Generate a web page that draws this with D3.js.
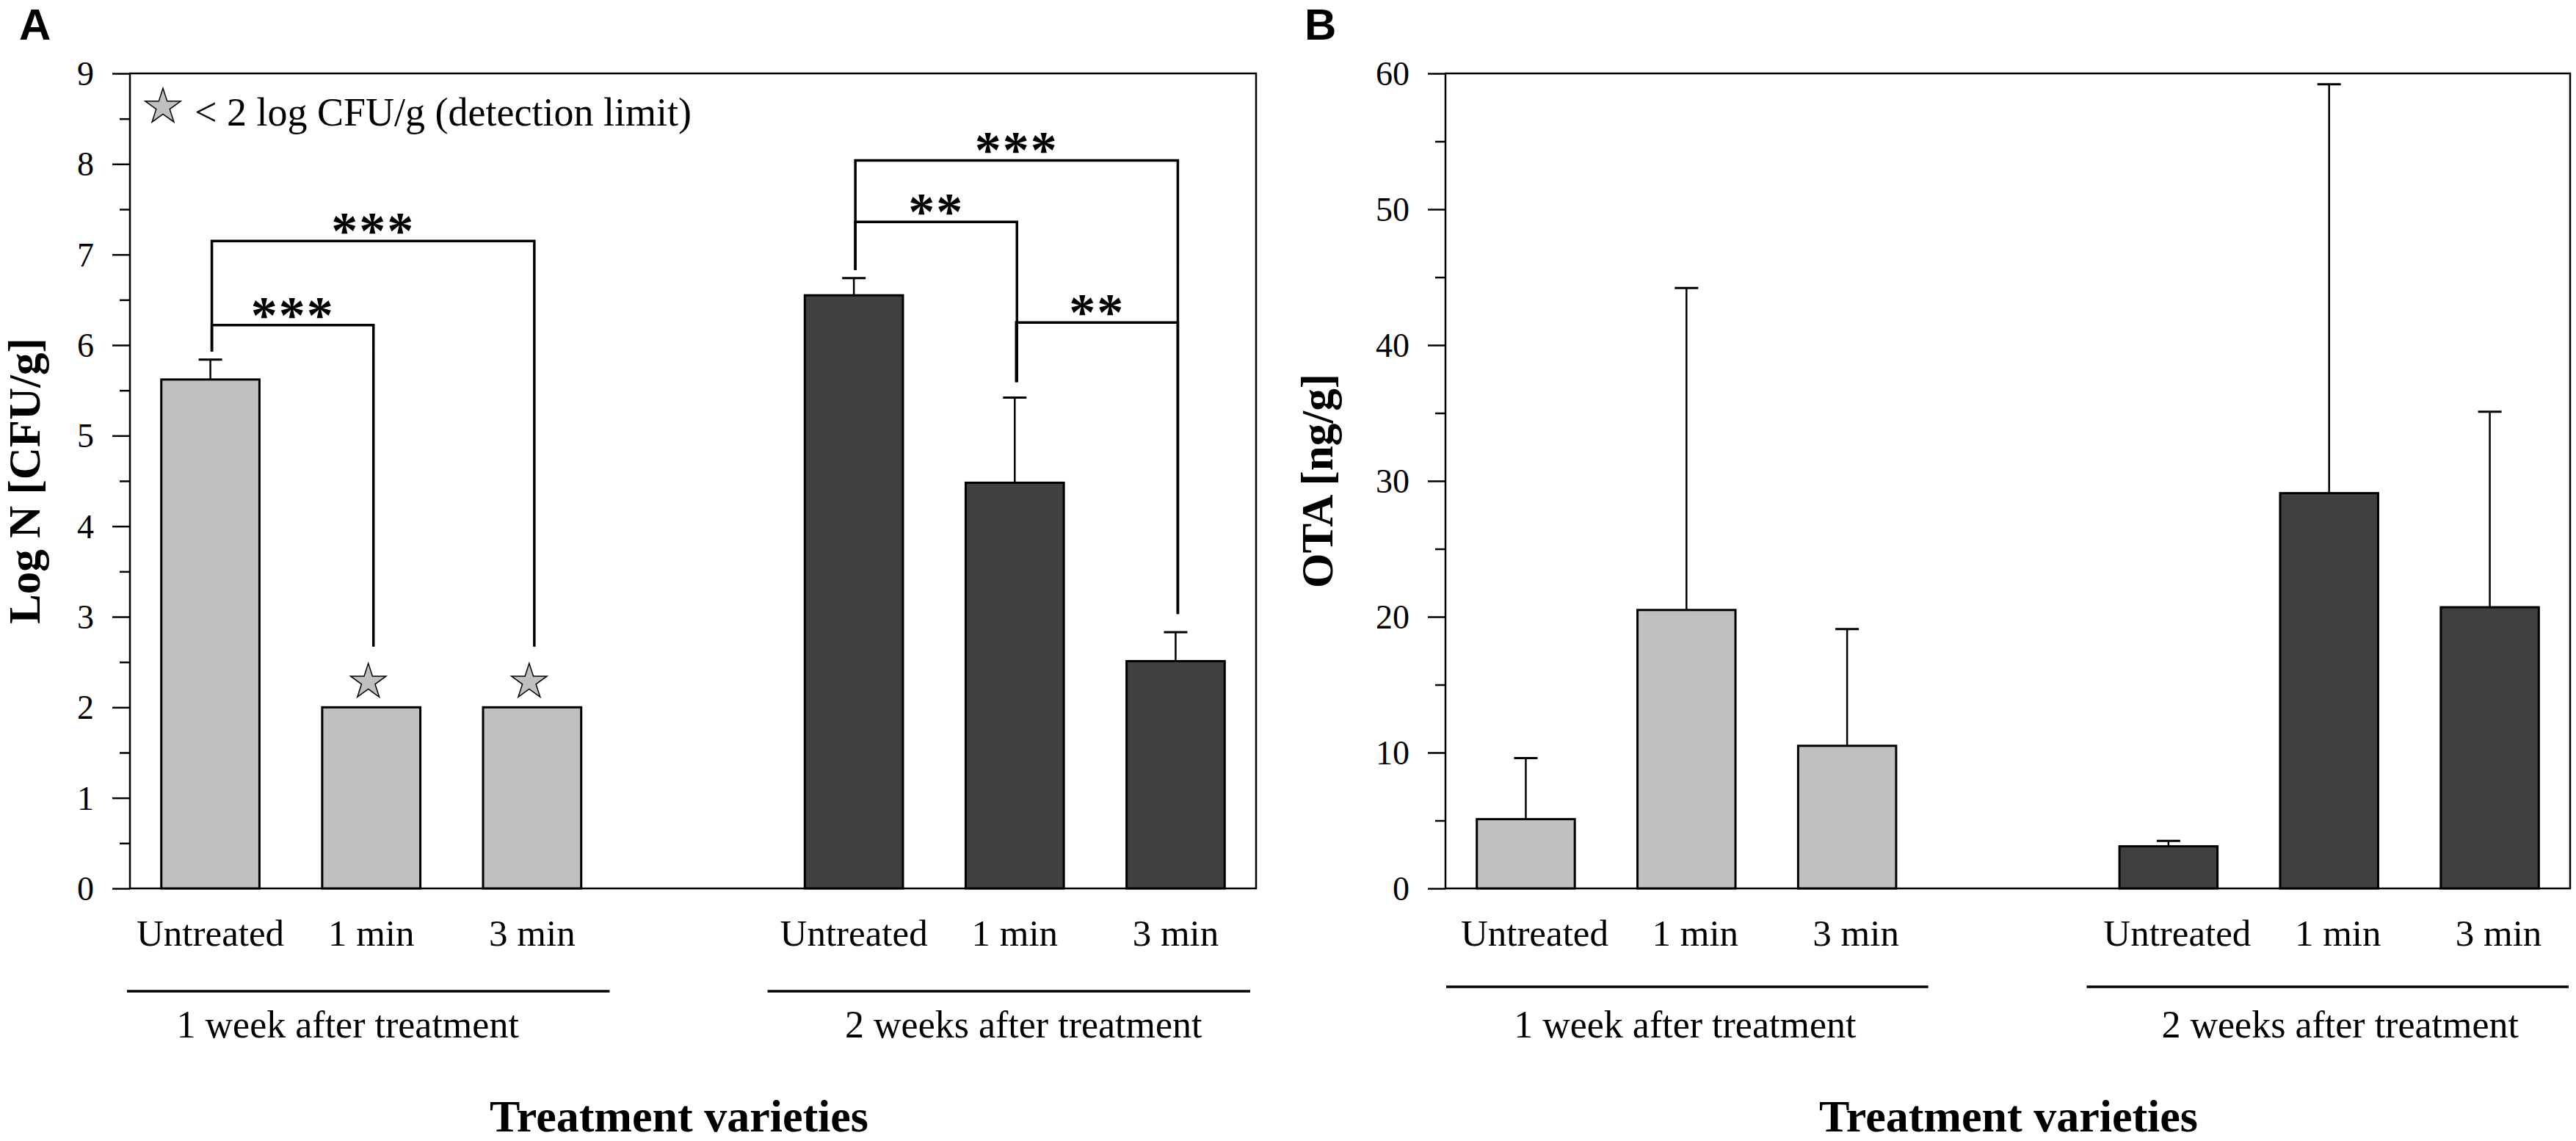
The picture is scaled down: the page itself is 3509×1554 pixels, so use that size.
<!DOCTYPE html>
<html>
<head>
<meta charset="utf-8">
<script src="https://cdn.jsdelivr.net/npm/d3@7"></script>
<style>
  body { margin: 0; background: #fff; }
  svg { display: block; }
</style>
</head>
<body>
<script>
// Data
var treatments = ["Untreated", "1 min", "3 min"];
var periods = ["1 week after treatment", "2 weeks after treatment"];
var periodFill = ["#c0c0c0", "#404040"];

// panel A: log N [CFU/g]
var logMeans = [[5.62, 2.0, 2.0], [6.55, 4.48, 2.51]];
var logErrors = [[0.22, 0, 0], [0.19, 0.94, 0.32]];
var belowLimit = [[false, true, true], [false, false, false]];
var logTicks = [0, 1, 2, 3, 4, 5, 6, 7, 8, 9];
var logMinor = [0.5, 1.5, 2.5, 3.5, 4.5, 5.5, 6.5, 7.5, 8.5];

// significance brackets (panel A): period, from, to, bar level, leg ends, label
var sigBrackets = [
  { p: 0, a: 0, b: 1, level: 6.22, endA: 5.93, endB: 2.67, label: "***" },
  { p: 0, a: 0, b: 2, level: 7.15, endA: 5.93, endB: 2.67, label: "***" },
  { p: 1, a: 0, b: 1, level: 7.36, endA: 6.83, endB: 5.59, label: "**" },
  { p: 1, a: 0, b: 2, level: 8.04, endA: 6.83, endB: 3.03, label: "***" },
  { p: 1, a: 1, b: 2, level: 6.25, endA: 5.59, endB: 3.03, label: "**" }
];

// panel B: OTA [ng/g]
var otaMeans = [[5.1, 20.5, 10.5], [3.1, 29.1, 20.7]];
var otaErrors = [[4.5, 23.7, 8.6], [0.4, 30.1, 14.4]];
var otaTicks = [0, 10, 20, 30, 40, 50, 60];
var otaMinor = [5, 15, 25, 35, 45, 55];

var W = 3509, H = 1554;
var serif = "'Liberation Serif', 'Times New Roman', serif";

var svg = d3.select("body").append("svg")
  .attr("width", W)
  .attr("height", H);

function slotKey(p, t) { return p + "-" + t; }
var slots = [];
periods.forEach(function (per, p) {
  if (p > 0) slots.push("gap" + p);
  treatments.forEach(function (tr, t) { slots.push(slotKey(p, t)); });
});

function drawPanel(o) {
  var g = svg.append("g");

  var x = d3.scaleBand()
    .domain(slots)
    .range([o.left, o.right])
    .paddingInner(0.39)
    .paddingOuter(0.195);
  var y = d3.scaleLinear().domain(o.domain).range([1210, 100]);
  var cx = function (p, t) { return x(slotKey(p, t)) + x.bandwidth() / 2; };

  // frame
  g.append("rect")
    .attr("x", o.left).attr("y", y(o.domain[1]))
    .attr("width", o.right - o.left)
    .attr("height", y(o.domain[0]) - y(o.domain[1]))
    .attr("fill", "none").attr("stroke", "#000").attr("stroke-width", 2.5);

  // y axis, major + minor ticks
  var ax = g.append("g")
    .attr("transform", "translate(" + o.left + ",0)")
    .call(d3.axisLeft(y).tickValues(o.ticks).tickSize(24).tickPadding(25).tickFormat(d3.format("d")));
  ax.select(".domain").remove();
  ax.selectAll("line").attr("stroke", "#000").attr("stroke-width", 2.5);
  ax.selectAll("text")
    .attr("font-family", serif).attr("font-size", 46).attr("fill", "#000")
    .attr("dy", "0.34em");

  var mx = g.append("g")
    .attr("transform", "translate(" + o.left + ",0)")
    .call(d3.axisLeft(y).tickValues(o.minor).tickSize(14).tickFormat(""));
  mx.select(".domain").remove();
  mx.selectAll("line").attr("stroke", "#000").attr("stroke-width", 2.5);

  // bars
  var rows = [];
  o.means.forEach(function (arr, p) {
    arr.forEach(function (v, t) {
      rows.push({ p: p, t: t, v: v, e: o.errors[p][t] });
    });
  });

  g.selectAll("rect.bar")
    .data(rows)
    .enter()
    .append("rect")
    .attr("class", "bar")
    .attr("x", function (d) { return x(slotKey(d.p, d.t)); })
    .attr("y", function (d) { return y(d.v); })
    .attr("width", x.bandwidth())
    .attr("height", function (d) { return y(0) - y(d.v); })
    .attr("fill", function (d) { return periodFill[d.p]; })
    .attr("stroke", "#000")
    .attr("stroke-width", 3);

  // error bars (upper only)
  var eb = g.selectAll("g.err")
    .data(rows.filter(function (d) { return d.e > 0; }))
    .enter()
    .append("g")
    .attr("class", "err")
    .attr("stroke", "#000")
    .attr("stroke-width", 2.5);
  eb.append("line")
    .attr("x1", function (d) { return cx(d.p, d.t); })
    .attr("x2", function (d) { return cx(d.p, d.t); })
    .attr("y1", function (d) { return y(d.v); })
    .attr("y2", function (d) { return y(d.v + d.e); });
  eb.append("line")
    .attr("stroke-width", 3)
    .attr("x1", function (d) { return cx(d.p, d.t) - 16; })
    .attr("x2", function (d) { return cx(d.p, d.t) + 16; })
    .attr("y1", function (d) { return y(d.v + d.e); })
    .attr("y2", function (d) { return y(d.v + d.e); });

  // category labels
  rows.forEach(function (d) {
    g.append("text")
      .attr("x", cx(d.p, d.t) + o.labelDx)
      .attr("y", 1288)
      .attr("text-anchor", "middle")
      .attr("font-family", serif)
      .attr("font-size", 51)
      .text(treatments[d.t]);
  });

  // period lines and labels
  periods.forEach(function (per, p) {
    var x1 = x(slotKey(p, 0)) - x.step() * 0.195;
    var x2 = x(slotKey(p, treatments.length - 1)) + x.bandwidth() + x.step() * 0.195;
    g.append("line")
      .attr("x1", x1 + o.lineDx[p]).attr("x2", x2 + o.lineDx[p])
      .attr("y1", o.lineY).attr("y2", o.lineY)
      .attr("stroke", "#000").attr("stroke-width", 3.5);
    g.append("text")
      .attr("x", cx(p, 1) + o.periodDx[p])
      .attr("y", 1413)
      .attr("text-anchor", "middle")
      .attr("font-family", serif)
      .attr("font-size", 52)
      .text(per);
  });

  // axis titles
  g.append("text")
    .attr("transform", "translate(" + o.titleX + "," + (y(o.domain[0]) + y(o.domain[1])) / 2 + ") rotate(-90)")
    .attr("text-anchor", "middle")
    .attr("font-family", serif)
    .attr("font-weight", "bold")
    .attr("font-size", 61)
    .text(o.yTitle);

  g.append("text")
    .attr("x", o.xTitleX)
    .attr("y", 1541)
    .attr("text-anchor", "middle")
    .attr("font-family", serif)
    .attr("font-weight", "bold")
    .attr("font-size", 62)
    .text("Treatment varieties");

  // panel letter
  g.append("text")
    .attr("x", o.letterX)
    .attr("y", 54)
    .attr("font-family", "'Liberation Sans', Arial, sans-serif")
    .attr("font-weight", "bold")
    .attr("font-size", 60)
    .text(o.letter);

  return { g: g, x: x, y: y, cx: cx };
}

var star = d3.symbol().type(d3.symbolStar).size(725);

// Panel A
var A = drawPanel({
  left: 177, right: 1711, domain: [0, 9],
  ticks: logTicks, minor: logMinor,
  means: logMeans, errors: logErrors,
  labelDx: 0, lineDx: [-4, -8], lineY: 1350, periodDx: [-32, 12],
  titleX: 54, yTitle: "Log N [CFU/g]", xTitleX: 925,
  letter: "A", letterX: 26
});

// brackets
sigBrackets.forEach(function (b) {
  var xa = A.cx(b.p, b.a) + 2, xb = A.cx(b.p, b.b) + 3;
  A.g.append("path")
    .attr("d", "M" + xa + "," + A.y(b.endA) + "V" + A.y(b.level) + "H" + xb + "V" + A.y(b.endB))
    .attr("fill", "none")
    .attr("stroke", "#000")
    .attr("stroke-width", 3.5);
  A.g.append("text")
    .attr("x", (xa + xb) / 2)
    .attr("y", A.y(b.level) + 10)
    .attr("text-anchor", "middle")
    .attr("font-family", serif)
    .attr("font-weight", "bold")
    .attr("font-size", 72)
    .attr("letter-spacing", 2)
    .text(b.label);
});

// detection-limit stars
belowLimit.forEach(function (arr, p) {
  arr.forEach(function (flag, t) {
    if (!flag) return;
    A.g.append("path")
      .attr("d", star)
      .attr("transform", "translate(" + (A.cx(p, t) - 4) + "," + A.y(2.28) + ")")
      .attr("fill", "#c0c0c0")
      .attr("stroke", "#000")
      .attr("stroke-width", 1.5);
  });
});

// legend
A.g.append("path")
  .attr("d", star)
  .attr("transform", "translate(222," + A.y(8.63) + ")")
  .attr("fill", "#c0c0c0")
  .attr("stroke", "#000")
  .attr("stroke-width", 1.5);
A.g.append("text")
  .attr("x", 265)
  .attr("y", 171)
  .attr("font-family", serif)
  .attr("font-size", 54)
  .text("< 2 log CFU/g (detection limit)");

// Panel B
drawPanel({
  left: 1969, right: 3501, domain: [0, 60],
  ticks: otaTicks, minor: otaMinor,
  means: otaMeans, errors: otaErrors,
  labelDx: 12, lineDx: [1, -2], lineY: 1344, periodDx: [-2, 15],
  titleX: 1815, yTitle: "OTA [ng/g]", xTitleX: 2736,
  letter: "B", letterX: 1777
});
</script>
</body>
</html>
